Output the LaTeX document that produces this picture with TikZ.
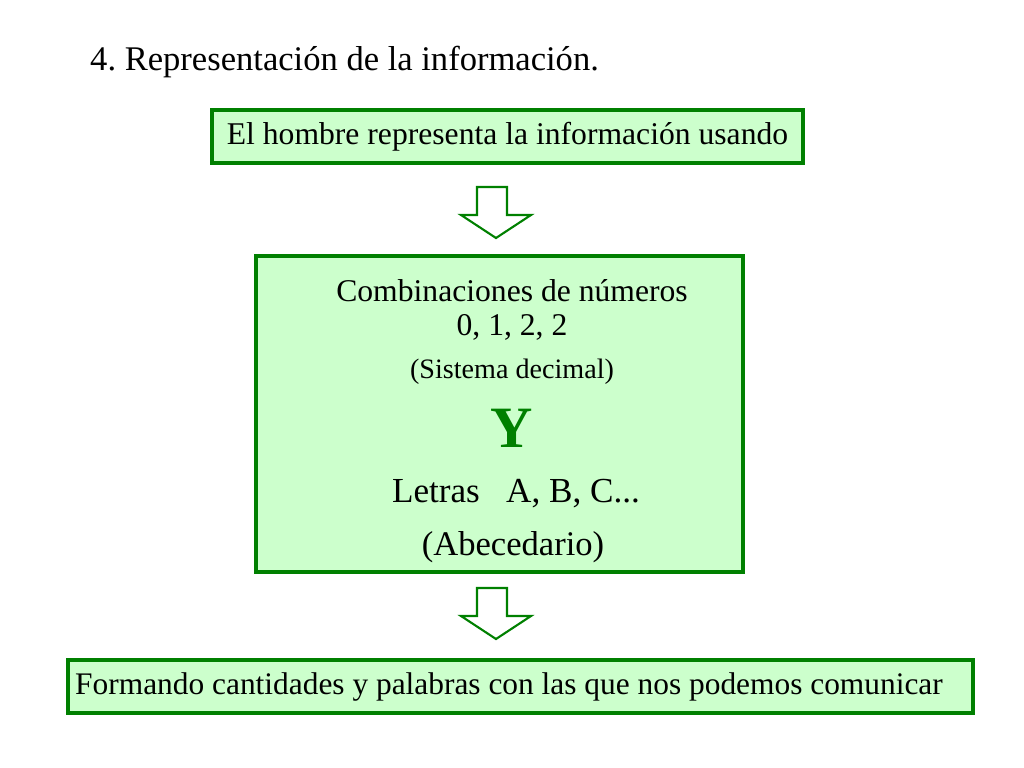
\documentclass[tikz,border=0pt]{standalone}
\usepackage{fontspec}
\setmainfont{Liberation Serif}
\frenchspacing
\definecolor{boxline}{RGB}{0,128,0}
\definecolor{boxfill}{RGB}{204,255,204}
\tikzset{
  greenbox/.style={draw=boxline,fill=boxfill,line width=2.6pt,inner sep=0pt},
  hollowarrow/.style={draw=boxline,fill=white,line width=1.8pt,line join=miter}
}
\begin{document}
\begin{tikzpicture}[x=0.03cm,y=-0.03cm]
  \useasboundingbox (0,0) rectangle (1024,768);
  % title
  \node[anchor=west,inner sep=0pt,font=\fontsize{29.5}{34}\selectfont] (title) at (90,62) {4. Representación de la información.};
  % boxes
  \draw[greenbox] (212,110) rectangle (803,163);
  \node[font=\fontsize{27}{31}\selectfont] (hombre) at (507.5,137) {El hombre representa la información usando};
  \draw[greenbox] (256,256) rectangle (743,572);
  \node[font=\fontsize{27}{31}\selectfont] (comb) at (512,291) {Combinaciones de números};
  \node[font=\fontsize{27}{31}\selectfont] (nums) at (512,327) {0, 1, 2, 2};
  \node[font=\fontsize{24}{28}\selectfont] (sis) at (512,372) {(Sistema decimal)};
  \node[font=\fontsize{50}{54}\selectfont\bfseries,text=boxline] (y) at (512,428) {Y};
  \node[font=\fontsize{30}{34}\selectfont] (letras) at (516,494) {Letras \ \ A, B, C...};
  \node[font=\fontsize{29.5}{34}\selectfont] (abc) at (513,547) {(Abecedario)};
  \draw[greenbox] (68,660) rectangle (973,713);
  \node[font=\fontsize{26.8}{31}\selectfont] (forma) at (509,687) {Formando cantidades y palabras con las que nos podemos comunicar};
  % arrows
  \foreach \t in {187,588}{
    \draw[hollowarrow] (477,\t) -- (507,\t) -- (507,\t+28) -- (531,\t+28)
      -- (496,\t+51) -- (461,\t+28) -- (477,\t+28) -- cycle;
  }
\end{tikzpicture}
\end{document}
